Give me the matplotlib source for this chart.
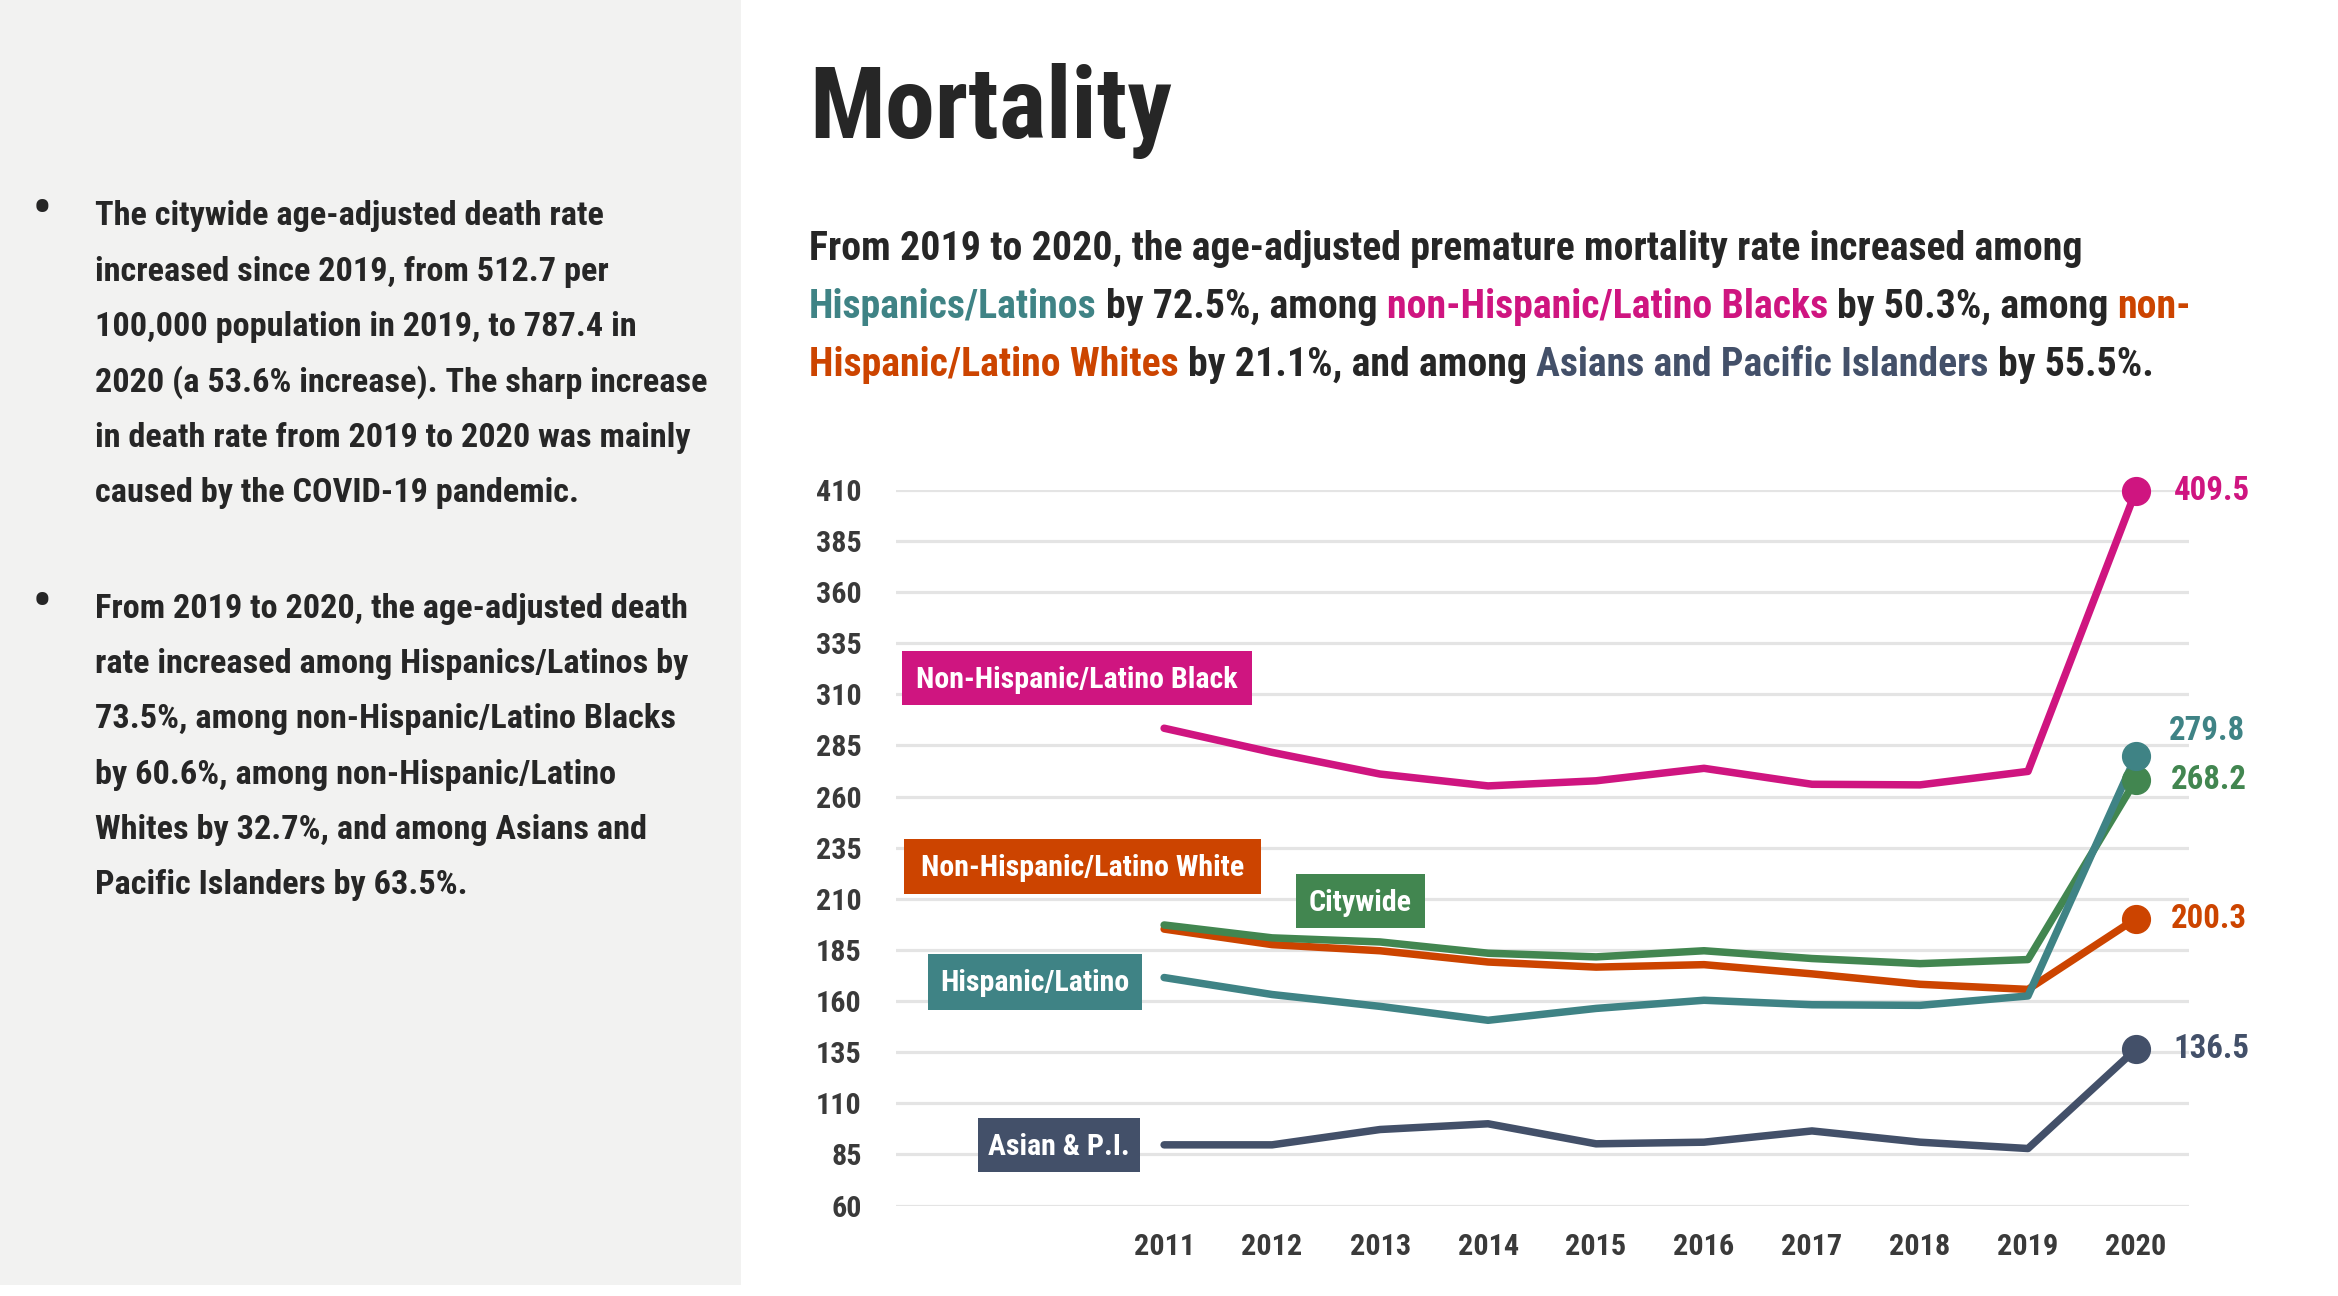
import matplotlib
matplotlib.use("Agg")
import matplotlib.pyplot as plt
from matplotlib import font_manager as fm
from matplotlib.patches import Rectangle

# ---------------- data ----------------
years = [2011, 2012, 2013, 2014, 2015, 2016, 2017, 2018, 2019, 2020]
black = [293.4, 281.6, 271.0, 265.2, 267.7, 273.8, 266.0, 265.7, 272.3, 409.5]
asian = [89.7, 89.7, 97.2, 100.0, 90.2, 91.0, 96.5, 91.0, 87.9, 136.5]
white = [195.2, 187.6, 184.6, 179.1, 176.6, 177.8, 173.3, 168.2, 165.7, 200.3]
citywide = [197.2, 190.9, 188.9, 183.4, 181.6, 184.6, 180.8, 178.3, 180.3, 268.2]
hispanic = [171.5, 163.2, 157.4, 150.6, 156.4, 160.4, 158.2, 157.9, 162.5, 279.8]
yticks = [60, 85, 110, 135, 160, 185, 210, 235, 260, 285, 310, 335, 360, 385, 410]

series_names = ["Non-Hispanic/Latino Black", "Asian & P.I.", "Non-Hispanic/Latino White",
                "Citywide", "Hispanic/Latino"]
series_values = [black, asian, white, citywide, hispanic]

PINK = "#cf1580"
TEAL = "#3f8385"
GREEN = "#428650"
ORANGE = "#cc4400"
SLATE = "#435069"
DARK = "#262626"
AXTXT = "#3a3a3a"
series_colors = [PINK, SLATE, ORANGE, GREEN, TEAL]

title = "Mortality"
subtitle_lines = [
    [("From 2019 to 2020, the age-adjusted premature mortality rate increased among", DARK)],
    [("Hispanics/Latinos", TEAL), (" by 72.5%, among ", DARK),
     ("non-Hispanic/Latino Blacks", PINK), (" by 50.3%, among ", DARK), ("non-", ORANGE)],
    [("Hispanic/Latino Whites", ORANGE), (" by 21.1%, and among ", DARK),
     ("Asians and Pacific Islanders", SLATE), (" by 55.5%.", DARK)],
]
bullet1 = ["The citywide age-adjusted death rate",
           "increased since 2019, from 512.7 per",
           "100,000 population in 2019, to 787.4 in",
           "2020 (a 53.6% increase). The sharp increase",
           "in death rate from 2019 to 2020 was mainly",
           "caused by the COVID-19 pandemic."]
bullet2 = ["From 2019 to 2020, the age-adjusted death",
           "rate increased among Hispanics/Latinos by",
           "73.5%, among non-Hispanic/Latino Blacks",
           "by 60.6%, among non-Hispanic/Latino",
           "Whites by 32.7%, and among Asians and",
           "Pacific Islanders by 63.5%."]


# ---------------- font ----------------
def pick_font():
    for fam, key in [("Liberation Sans Narrow", "narrow"), ("Roboto Condensed", "condensed"),
                     ("Open Sans Condensed", "condensed"), ("DejaVu Sans", "condensed")]:
        try:
            kw = {"stretch": "condensed"} if fam == "DejaVu Sans" else {}
            f = fm.findfont(fm.FontProperties(family=fam, weight="bold", **kw),
                            fallback_to_default=False)
            if key in f.lower() or fam.lower().replace(" ", "") in f.lower().replace(" ", "").replace("-", ""):
                if fam == "DejaVu Sans" and "condensed" not in f.lower():
                    continue
                return fam, kw
        except Exception:
            pass
    return "DejaVu Sans", {}


FONT, FKW = pick_font()
plt.rcParams["font.family"] = [FONT, "DejaVu Sans"]
if FKW:
    plt.rcParams["font.stretch"] = FKW["stretch"]
plt.rcParams["font.weight"] = "bold"

W, H = 2338, 1296
S = W / 1552.0


def fx(d):
    return d / 1552.0


def fy(d):
    return 1 - d / 860.0


fig = plt.figure(figsize=(W / 100, H / 100), dpi=100)
fig.patch.set_facecolor("white")
renderer = fig.canvas.get_renderer()


def width_px(s, size):
    t = fig.text(0, 0, s, fontsize=size, fontweight="bold")
    w = t.get_window_extent(renderer).width
    t.remove()
    return w


def fit(s, target_disp):
    return 100.0 * target_disp * S / width_px(s, 100)


# left panel
fig.patches.append(Rectangle((0, fy(853)), fx(492), 853 / 860.0, transform=fig.transFigure,
                             facecolor="#f2f2f1", edgecolor="none", zorder=0))

body_size = fit("2020 (a 53.6% increase). The sharp increase", 406)
for base, lines in [(149.6, bullet1), (410.0, bullet2)]:
    fig.text(fx(28), fy(base - 9.5), "\u2022", fontsize=body_size * 1.5, color=DARK,
             ha="center", va="center")
    for i, ln in enumerate(lines):
        fig.text(fx(63), fy(base + 36.7 * i), ln, fontsize=body_size, color=DARK,
                 ha="left", va="baseline")

# title
fig.text(fx(537), fy(91.5), title, fontsize=fit(title, 223) * 1.08, color=DARK,
         ha="left", va="baseline")

# subtitle with coloured runs
sub_size = fit(subtitle_lines[0][0][0], 846)
sent_w = width_px("|", sub_size)
for li, segs in enumerate(subtitle_lines):
    prefix = ""
    for txt, col in segs:
        off = 0.0 if prefix == "" else width_px(prefix + "|", sub_size) - sent_w
        lead = len(txt) - len(txt.lstrip(" "))
        if lead:
            off = width_px(prefix + txt[:lead] + "|", sub_size) - sent_w
        x = fx(537) + off / W
        fig.text(x, fy(172.4 + 38.6 * li), txt.strip(" "), fontsize=sub_size, color=col,
                 ha="left", va="baseline")
        prefix += txt

# ---------------- chart ----------------
ax = fig.add_axes([fx(595), fy(800), fx(1453) - fx(595), (800 - 325) / 860.0])
ax.set_facecolor("none")
ax.set_xlim(2008.52, 2020.49)
ax.set_ylim(60, 410)
ax.set_yticks(yticks)
ax.set_xticks(years)
ax.grid(axis="y", color="#e4e4e4", lw=2.3)
ax.grid(axis="x", visible=False)
ax.set_axisbelow(True)
for sp in ax.spines.values():
    sp.set_visible(False)
tick_size = fit("410", 27) * 1.12
year_size = fit("2020", 37) * 1.1
ax.tick_params(axis="y", length=0, pad=25, labelsize=tick_size, labelcolor=AXTXT)
ax.tick_params(axis="x", length=0, pad=20, labelsize=year_size, labelcolor=AXTXT)
for lab in ax.get_xticklabels() + ax.get_yticklabels():
    lab.set_fontweight("bold")

val_size = fit("409.5", 46) * 1.1
end_offsets = [(27, 0), (27, 0), (25, 0), (25, 0), (24, 18)]
for vals, col, off in zip(series_values, series_colors, end_offsets):
    ax.plot(years, vals, color=col, lw=5.4, solid_capstyle="round",
            solid_joinstyle="round", clip_on=False, zorder=3)
    ax.plot([years[-1]], [vals[-1]], "o", ms=20, color=col, clip_on=False, zorder=4)
    ax.annotate(f"{vals[-1]:.1f}", (years[-1], vals[-1]), xytext=off,
                textcoords="offset points", ha="left", va="center",
                fontsize=val_size, color=col, fontweight="bold", annotation_clip=False)

# series label boxes (display-space layout)
box_layout = {
    "Non-Hispanic/Latino Black": (599, 831, 432, 468),
    "Asian & P.I.": (649, 757, 742, 778),
    "Non-Hispanic/Latino White": (600, 837, 557, 593),
    "Citywide": (860, 946, 580, 616),
    "Hispanic/Latino": (616, 758, 633, 670),
}
lab_size = fit("Non-Hispanic/Latino Black", 214)
for name, col in zip(series_names, series_colors):
    x0, x1, y0, y1 = box_layout[name]
    fig.patches.append(Rectangle((fx(x0), fy(y1)), fx(x1) - fx(x0), (y1 - y0) / 860.0,
                                 transform=fig.transFigure, facecolor=col,
                                 edgecolor="none", zorder=5))
    fig.text(fx((x0 + x1) / 2), fy((y0 + y1) / 2 + 1), name, fontsize=lab_size,
             color="white", ha="center", va="center", zorder=6)

fig.savefig("out.png", dpi=100, facecolor="white")
